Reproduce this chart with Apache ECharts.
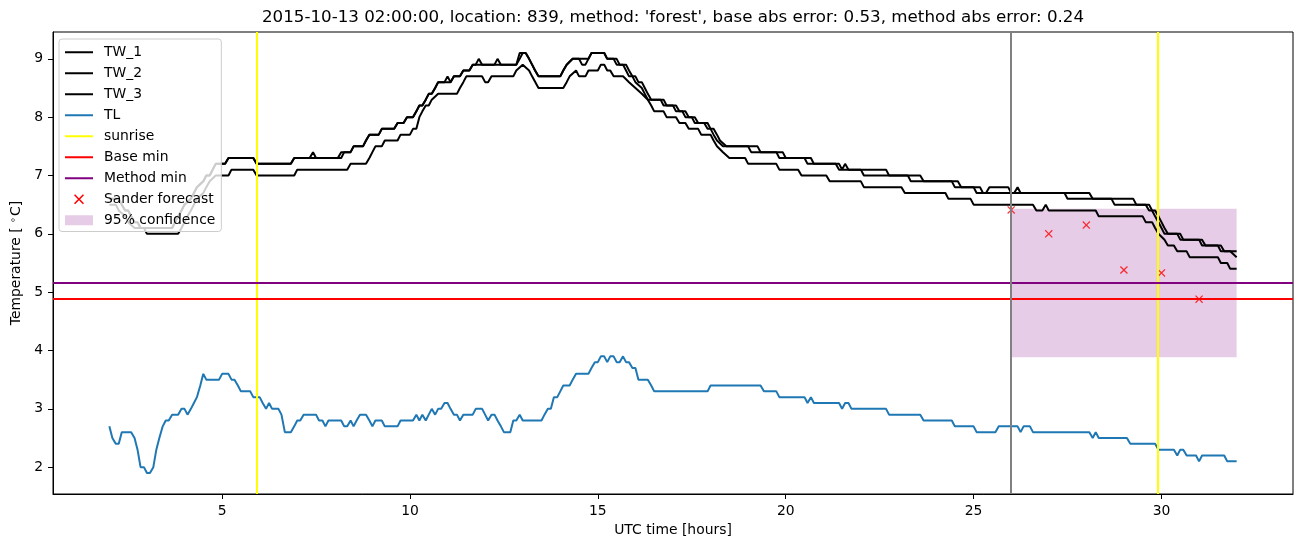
<!DOCTYPE html>
<html>
<head>
<meta charset="utf-8">
<script src="https://cdn.jsdelivr.net/npm/echarts@6/dist/echarts.min.js"></script>
<style>
html,body{margin:0;padding:0;background:#fff;}
#chart{width:1302px;height:547px;}
</style>
</head>
<body>
<div id="chart"></div>
<script>
// ---- data (hours UTC, temperature °C) ----
const tw1 = [[2.0,6.6],[2.25,6.6],[2.33,6.5],[2.42,6.4],[2.5,6.4],[2.58,6.3],[2.67,6.2],[2.75,6.2],[2.83,6.1],[3.67,6.1],[3.75,6.2],[3.83,6.3],[3.92,6.4],[4.0,6.5],[4.17,6.6],[4.25,6.7],[4.33,6.8],[4.5,6.9],[4.58,7.0],[4.67,7.0],[4.75,7.1],[4.83,7.2],[5.08,7.2],[5.17,7.3],[5.83,7.3],[5.92,7.2],[6.83,7.2],[6.92,7.3],[7.33,7.3],[7.42,7.4],[7.5,7.3],[8.08,7.3],[8.17,7.4],[8.42,7.4],[8.5,7.5],[8.75,7.5],[8.83,7.6],[8.92,7.7],[9.17,7.7],[9.25,7.8],[9.58,7.8],[9.67,7.9],[9.83,7.9],[9.92,8.0],[10.08,8.0],[10.17,8.1],[10.25,8.2],[10.33,8.2],[10.42,8.3],[10.5,8.4],[10.58,8.4],[10.67,8.5],[10.75,8.6],[10.92,8.6],[11.0,8.7],[11.08,8.6],[11.17,8.7],[11.33,8.7],[11.42,8.8],[11.58,8.8],[11.67,8.9],[11.75,8.9],[11.83,9.0],[11.92,8.9],[12.83,8.9],[12.92,9.1],[13.08,9.1],[13.17,9.0],[13.25,8.9],[13.33,8.8],[13.42,8.7],[14.0,8.7],[14.08,8.8],[14.17,8.9],[14.33,9.0],[14.5,9.0],[14.58,8.9],[14.67,8.9],[14.75,9.0],[14.83,9.1],[15.17,9.1],[15.25,9.0],[15.42,9.0],[15.5,8.9],[15.67,8.9],[15.75,8.8],[15.83,8.7],[15.92,8.7],[16.0,8.6],[16.17,8.5],[16.25,8.4],[16.33,8.3],[16.67,8.3],[16.75,8.2],[17.0,8.2],[17.08,8.1],[17.25,8.1],[17.33,8.0],[17.5,8.0],[17.58,7.9],[17.83,7.9],[17.92,7.8],[18.0,7.8],[18.08,7.7],[18.17,7.6],[18.33,7.5],[19.0,7.5],[19.08,7.4],[19.75,7.4],[19.83,7.3],[20.5,7.3],[20.58,7.2],[21.33,7.2],[21.42,7.1],[22.0,7.1],[22.08,7.0],[23.25,7.0],[23.33,6.9],[24.42,6.9],[24.5,6.8],[25.0,6.8],[25.08,6.7],[26.08,6.7],[26.17,6.8],[26.25,6.7],[27.42,6.7],[27.5,6.6],[28.67,6.6],[28.75,6.5],[29.58,6.5],[29.67,6.4],[29.75,6.4],[29.83,6.3],[29.92,6.2],[30.0,6.1],[30.08,6.0],[30.42,6.0],[30.5,5.9],[31.0,5.9],[31.08,5.8],[31.5,5.8],[31.58,5.7],[31.83,5.7],[32.0,5.6]];
const tw2 = [[2.0,6.6],[2.25,6.6],[2.33,6.5],[2.42,6.4],[2.5,6.4],[2.58,6.3],[2.67,6.2],[2.75,6.2],[2.83,6.1],[3.67,6.1],[3.75,6.2],[3.83,6.3],[3.92,6.4],[4.0,6.5],[4.17,6.6],[4.25,6.7],[4.33,6.8],[4.5,6.9],[4.58,7.0],[4.67,7.0],[4.75,7.1],[4.83,7.2],[5.08,7.2],[5.17,7.3],[5.83,7.3],[5.92,7.2],[6.83,7.2],[6.92,7.3],[8.17,7.3],[8.25,7.4],[8.42,7.4],[8.5,7.5],[8.75,7.5],[8.83,7.6],[8.92,7.7],[9.17,7.7],[9.25,7.8],[9.58,7.8],[9.67,7.9],[9.83,7.9],[9.92,8.0],[10.08,8.0],[10.17,8.1],[10.25,8.2],[10.33,8.2],[10.42,8.3],[10.5,8.4],[10.58,8.4],[10.67,8.5],[10.75,8.6],[11.08,8.6],[11.17,8.7],[11.33,8.7],[11.42,8.8],[11.58,8.8],[11.67,8.9],[12.25,8.9],[12.33,9.0],[12.42,8.9],[12.83,8.9],[12.92,9.0],[13.0,9.1],[13.08,9.1],[13.17,9.0],[13.25,8.9],[13.33,8.8],[13.42,8.7],[14.0,8.7],[14.08,8.8],[14.17,8.9],[14.33,9.0],[14.75,9.0],[14.83,9.1],[15.17,9.1],[15.25,9.0],[15.5,9.0],[15.58,8.9],[15.75,8.9],[15.83,8.8],[15.92,8.7],[16.0,8.7],[16.08,8.6],[16.17,8.6],[16.25,8.5],[16.33,8.4],[16.42,8.3],[16.75,8.3],[16.83,8.2],[17.08,8.2],[17.17,8.1],[17.33,8.1],[17.42,8.0],[17.58,8.0],[17.67,7.9],[17.92,7.9],[18.0,7.8],[18.08,7.8],[18.17,7.7],[18.25,7.6],[18.42,7.5],[19.25,7.5],[19.33,7.4],[19.92,7.4],[20.0,7.3],[20.67,7.3],[20.75,7.2],[21.42,7.2],[21.5,7.1],[21.58,7.2],[21.67,7.1],[22.67,7.1],[22.75,7.0],[23.58,7.0],[23.67,6.9],[24.58,6.9],[24.67,6.8],[25.17,6.8],[25.25,6.7],[25.33,6.7],[25.42,6.8],[25.92,6.8],[26.0,6.7],[28.08,6.7],[28.17,6.6],[29.25,6.6],[29.33,6.5],[29.67,6.5],[29.75,6.4],[29.83,6.4],[29.92,6.3],[30.0,6.2],[30.08,6.1],[30.17,6.0],[30.5,6.0],[30.58,5.9],[31.08,5.9],[31.17,5.8],[31.58,5.8],[31.67,5.7],[32.0,5.7]];
const tw3 = [[2.0,6.5],[2.17,6.5],[2.25,6.4],[2.42,6.3],[2.5,6.2],[2.67,6.1],[2.92,6.1],[3.0,6.0],[3.83,6.0],[3.92,6.1],[4.0,6.2],[4.08,6.3],[4.17,6.4],[4.25,6.5],[4.33,6.6],[4.5,6.7],[4.58,6.8],[4.67,6.9],[4.83,7.0],[5.17,7.0],[5.25,7.1],[5.83,7.1],[5.92,7.0],[6.92,7.0],[7.0,7.1],[8.33,7.1],[8.42,7.2],[8.83,7.2],[8.92,7.3],[9.0,7.4],[9.08,7.5],[9.25,7.5],[9.33,7.6],[9.67,7.6],[9.75,7.7],[10.0,7.7],[10.08,7.8],[10.17,7.8],[10.25,8.0],[10.33,8.1],[10.42,8.2],[10.5,8.2],[10.58,8.3],[10.75,8.4],[11.25,8.4],[11.33,8.5],[11.42,8.6],[11.5,8.7],[11.92,8.7],[12.0,8.6],[12.08,8.6],[12.17,8.7],[12.75,8.7],[12.83,8.8],[13.0,8.9],[13.17,8.8],[13.25,8.7],[13.42,8.5],[14.08,8.5],[14.17,8.6],[14.25,8.7],[14.42,8.8],[14.5,8.7],[14.67,8.7],[14.75,8.8],[15.0,8.8],[15.08,8.9],[15.17,8.9],[15.25,8.8],[15.33,8.8],[15.42,8.7],[15.67,8.7],[15.83,8.6],[16.0,8.5],[16.17,8.4],[16.33,8.3],[16.42,8.2],[16.5,8.1],[16.75,8.1],[16.83,8.0],[17.08,8.0],[17.17,7.9],[17.33,7.9],[17.42,7.8],[17.67,7.8],[17.75,7.7],[18.0,7.7],[18.08,7.6],[18.17,7.5],[18.33,7.4],[18.5,7.3],[18.92,7.3],[19.0,7.2],[19.75,7.2],[19.83,7.1],[20.33,7.1],[20.42,7.0],[21.08,7.0],[21.17,6.9],[22.0,6.9],[22.08,6.8],[23.08,6.8],[23.17,6.7],[24.25,6.7],[24.33,6.6],[24.92,6.6],[25.0,6.5],[26.58,6.5],[26.67,6.4],[26.83,6.4],[26.92,6.5],[27.0,6.4],[28.25,6.4],[28.33,6.3],[29.5,6.3],[29.58,6.2],[29.75,6.2],[29.83,6.1],[29.92,6.0],[30.08,5.9],[30.17,5.8],[30.33,5.8],[30.42,5.7],[30.67,5.7],[30.75,5.6],[31.5,5.6],[31.58,5.5],[31.75,5.5],[31.83,5.4],[32.0,5.4]];
const tl = [[2.0,2.7],[2.08,2.5],[2.17,2.4],[2.25,2.4],[2.33,2.6],[2.58,2.6],[2.67,2.5],[2.75,2.3],[2.83,2.0],[2.92,2.0],[3.0,1.9],[3.08,1.9],[3.17,2.0],[3.25,2.3],[3.33,2.5],[3.42,2.7],[3.5,2.8],[3.58,2.8],[3.67,2.9],[3.83,2.9],[3.92,3.0],[4.0,3.0],[4.08,2.9],[4.17,3.0],[4.25,3.1],[4.33,3.2],[4.42,3.4],[4.5,3.6],[4.58,3.5],[4.92,3.5],[5.0,3.6],[5.17,3.6],[5.25,3.5],[5.33,3.5],[5.42,3.4],[5.5,3.3],[5.75,3.3],[5.83,3.2],[6.0,3.2],[6.08,3.1],[6.17,3.0],[6.25,3.1],[6.33,3.0],[6.5,3.0],[6.58,2.9],[6.67,2.6],[6.83,2.6],[6.92,2.7],[7.0,2.8],[7.08,2.8],[7.17,2.9],[7.5,2.9],[7.58,2.8],[7.67,2.8],[7.75,2.7],[7.83,2.8],[8.17,2.8],[8.25,2.7],[8.33,2.7],[8.42,2.8],[8.5,2.7],[8.58,2.8],[8.67,2.9],[8.83,2.9],[8.92,2.8],[9.0,2.7],[9.08,2.8],[9.25,2.8],[9.33,2.7],[9.67,2.7],[9.75,2.8],[10.08,2.8],[10.17,2.9],[10.25,2.8],[10.33,2.9],[10.42,2.8],[10.5,2.9],[10.58,3.0],[10.67,2.9],[10.75,3.0],[10.83,3.0],[10.92,3.1],[11.0,3.1],[11.08,3.0],[11.17,2.9],[11.25,2.9],[11.33,2.8],[11.42,2.9],[11.67,2.9],[11.75,3.0],[11.92,3.0],[12.0,2.9],[12.08,2.8],[12.17,2.9],[12.25,2.9],[12.33,2.8],[12.42,2.7],[12.5,2.6],[12.67,2.6],[12.75,2.8],[12.83,2.8],[12.92,2.9],[13.0,2.8],[13.5,2.8],[13.58,2.9],[13.67,3.0],[13.75,3.0],[13.83,3.2],[13.92,3.2],[14.0,3.3],[14.08,3.4],[14.25,3.4],[14.33,3.5],[14.42,3.6],[14.75,3.6],[14.83,3.7],[14.92,3.8],[15.0,3.8],[15.08,3.9],[15.17,3.9],[15.25,3.8],[15.33,3.9],[15.42,3.9],[15.5,3.8],[15.58,3.8],[15.67,3.9],[15.75,3.8],[15.83,3.8],[15.92,3.7],[16.0,3.7],[16.08,3.5],[16.33,3.5],[16.42,3.4],[16.5,3.3],[17.92,3.3],[18.0,3.4],[19.33,3.4],[19.42,3.3],[19.75,3.3],[19.83,3.2],[20.5,3.2],[20.58,3.1],[20.67,3.2],[20.75,3.1],[21.42,3.1],[21.5,3.0],[21.58,3.1],[21.67,3.1],[21.75,3.0],[22.67,3.0],[22.75,2.9],[23.58,2.9],[23.67,2.8],[24.42,2.8],[24.5,2.7],[25.0,2.7],[25.08,2.6],[25.58,2.6],[25.67,2.7],[26.17,2.7],[26.25,2.6],[26.33,2.7],[26.5,2.7],[26.58,2.6],[28.08,2.6],[28.17,2.5],[28.25,2.6],[28.33,2.5],[29.08,2.5],[29.17,2.4],[29.83,2.4],[29.92,2.3],[30.33,2.3],[30.42,2.2],[30.5,2.3],[30.58,2.3],[30.67,2.2],[30.92,2.2],[31.0,2.1],[31.08,2.2],[31.67,2.2],[31.75,2.1],[32.0,2.1]];
const forecastHours = [26, 27, 28, 29, 30, 31];
const forecastValues = [6.41, 6.0, 6.15, 5.38, 5.33, 4.88];
const sunriseHours = [5.92, 29.9];
const forecastStart = 26;
const baseMin = 4.885;
const methodMin = 5.165;
const confLow = 3.886, confHigh = 6.43, confStart = 26, confEnd = 32;
const xTicks = [5, 10, 15, 20, 25, 30];
const yTicks = [2, 3, 4, 5, 6, 7, 8, 9];
const titleText = "2015-10-13 02:00:00, location: 839, method: 'forest', base abs error: 0.53, method abs error: 0.24";

const FONT = 'DejaVu Sans';
const FS = 13.9;
const LW = 2;
const chart = echarts.init(document.getElementById('chart'), null, {renderer: 'canvas'});
const xMark = 'path://M1.1,0L5,3.9L8.9,0L10,1.1L6.1,5L10,8.9L8.9,10L5,6.1L1.1,10L0,8.9L3.9,5L0,1.1Z';

function lineSeries(name, data, color) {
  return {
    name: name, type: 'line', data: data, showSymbol: false, symbol: 'none',
    lineStyle: {color: color, width: LW}, itemStyle: {color: color},
    z: 3, silent: true
  };
}
function markLineSeries(name, color, data) {
  return {
    name: name, type: 'line', data: [], z: 3, silent: true,
    itemStyle: {color: color}, lineStyle: {color: color, width: LW},
    markLine: {silent: true, symbol: 'none', label: {show: false},
      lineStyle: {color: color, width: LW, type: 'solid'}, data: data}
  };
}
const hideSym = {opacity: 0};

const option = {
  animation: false,
  backgroundColor: '#ffffff',
  textStyle: {fontFamily: FONT},
  grid: {left: 53, right: 9, top: 32, bottom: 53, show: true, borderColor: '#000', borderWidth: 1, backgroundColor: 'transparent'},
  graphic: [{
    type: 'text', x: 673, y: 18, z: 100,
    style: {text: titleText, font: '16.7px "DejaVu Sans"', fill: '#000', textAlign: 'center', textVerticalAlign: 'middle'}
  }],
  legend: {
    left: 59, top: 39, orient: 'vertical',
    itemWidth: 28, itemHeight: 10, itemGap: 4.5,
    padding: [5, 6, 3, 5],
    backgroundColor: 'rgba(255,255,255,0.8)', borderColor: '#cccccc', borderWidth: 1, borderRadius: 3,
    textStyle: {fontFamily: FONT, fontSize: FS, color: '#000', padding: [0, 0, 0, 6], lineHeight: 16.5},
    data: [
      {name: 'TW_1', itemStyle: hideSym}, {name: 'TW_2', itemStyle: hideSym}, {name: 'TW_3', itemStyle: hideSym},
      {name: 'TL', itemStyle: hideSym},
      {name: 'sunrise', itemStyle: hideSym}, {name: 'Base min', itemStyle: hideSym}, {name: 'Method min', itemStyle: hideSym},
      {name: 'Sander forecast', icon: xMark, itemStyle: {color: '#ff0000', opacity: 1}},
      {name: '95% confidence', icon: 'rect', itemStyle: {color: 'rgba(128,0,128,0.2)', opacity: 1}}
    ],
    z: 50
  },
  xAxis: {
    type: 'value', min: 0.5, max: 33.5,
    name: 'UTC time [hours]', nameLocation: 'middle', nameGap: 29,
    nameTextStyle: {fontFamily: FONT, fontSize: FS, color: '#000'},
    axisLine: {show: true, onZero: false, lineStyle: {color: '#000', width: 1}},
    axisTick: {show: true, length: 5, customValues: xTicks, lineStyle: {color: '#000'}},
    axisLabel: {customValues: xTicks, fontFamily: FONT, fontSize: FS, color: '#000', margin: 10},
    splitLine: {show: false}
  },
  yAxis: {
    type: 'value', min: 1.54, max: 9.46,
    name: 'Temperature [ {sup|∘}C]', nameLocation: 'middle', nameGap: 27, nameRotate: 90,
    nameTextStyle: {fontFamily: FONT, fontSize: FS, color: '#000',
      rich: {sup: {fontFamily: FONT, fontSize: 9.5, color: '#000', verticalAlign: 'top', padding: [0, 1, 6, 0]}}},
    axisLine: {show: true, onZero: false, lineStyle: {color: '#000', width: 1}},
    axisTick: {show: true, length: 5, customValues: yTicks, lineStyle: {color: '#000'}},
    axisLabel: {customValues: yTicks, fontFamily: FONT, fontSize: FS, color: '#000', margin: 10},
    splitLine: {show: false}
  },
  series: [
    {
      name: '95% confidence', type: 'line', data: [], z: 1, silent: true,
      itemStyle: {color: 'rgba(128,0,128,0.2)'}, lineStyle: {color: 'rgba(128,0,128,0.2)'},
      markArea: {silent: true, itemStyle: {color: 'rgba(128,0,128,0.2)'},
        data: [[{xAxis: confStart, yAxis: confLow}, {xAxis: confEnd, yAxis: confHigh}]]}
    },
    lineSeries('TW_1', tw1, '#000000'),
    lineSeries('TW_2', tw2, '#000000'),
    lineSeries('TW_3', tw3, '#000000'),
    lineSeries('TL', tl, '#1f77b4'),
    markLineSeries('sunrise', '#ffff00', sunriseHours.map(h => ({xAxis: h}))),
    markLineSeries('Base min', '#ff0000', [{yAxis: baseMin}]),
    markLineSeries('Method min', '#800080', [{yAxis: methodMin}]),
    markLineSeries('forecast start', '#808080', [{xAxis: forecastStart}]),
    {
      name: 'Sander forecast', type: 'scatter', z: 4, silent: true,
      symbol: xMark, symbolSize: 8,
      itemStyle: {color: '#ff0000'},
      data: forecastHours.map((h, i) => [h, forecastValues[i]])
    }
  ]
};
chart.setOption(option);
</script>
</body>
</html>
